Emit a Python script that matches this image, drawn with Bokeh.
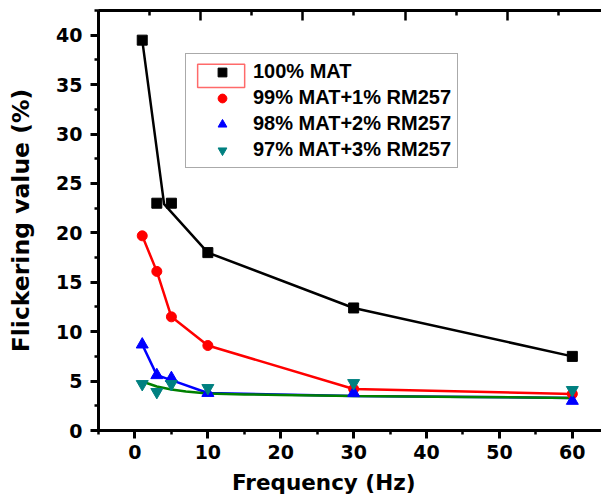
from bokeh.plotting import figure
from bokeh.models import (LinearAxis, Range1d, Legend, LegendItem,
                          SingleIntervalTicker, FixedTicker)
from bokeh.embed import file_html
from bokeh.resources import INLINE

# ---- data ----
freq = [1, 3, 5, 10, 30, 60]
mat100 = [39.5, 23.0, 23.0, 18.0, 12.4, 7.5]
mat99 = [19.7, 16.1, 11.5, 8.6, 4.2, 3.7]
mat98 = [8.7, 5.6, 5.3, 3.8, 3.8, 3.0]
mat97 = [4.7, 3.9, 4.7, 4.3, 4.8, 4.1]

line100_x = [1, 4, 10, 30, 60]
line100_y = [39.5, 22.9, 18.0, 12.4, 7.5]
line99_x = [1, 3, 5, 10, 30, 60]
line99_y = [19.7, 16.1, 11.5, 8.6, 4.2, 3.7]
line98_x = [1, 3, 5, 10, 30, 60]
line98_y = [8.7, 5.6, 5.1, 3.8, 3.5, 3.3]
fit97_x = [1, 2, 3, 5, 7, 10, 15, 20, 30, 45, 60]
fit97_y = [4.95, 4.7, 4.45, 4.15, 3.95, 3.75, 3.65, 3.6, 3.5, 3.4, 3.3]

labels = ["100% MAT", "99% MAT+1% RM257", "98% MAT+2% RM257", "97% MAT+3% RM257"]
x_title = "Frequency (Hz)"
y_title = "Flickering value (%)"

# top axis has its own tick spacing in the reference
top_major = [0, 1, 2, 3]
top_minor = [-0.5, 0.5, 1.5, 2.5, 3.5]

# red selection frame seen around the first legend symbol
sel_left, sel_right, sel_bottom, sel_top = 8.6, 15.05, 34.7, 37.05

TICK_FONT = "DejaVu Sans"

p = figure(width=601, height=504, x_range=Range1d(-5, 64), y_range=Range1d(0, 42.5),
           output_backend="svg", toolbar_location=None,
           min_border_left=98, min_border_top=10, min_border_bottom=74, min_border_right=0)
p.outline_line_color = None
p.xgrid.visible = False
p.ygrid.visible = False
p.background_fill_color = "white"
p.border_fill_color = "white"

# lines
p.line(line100_x, line100_y, line_color="black", line_width=2.5)
p.line(line99_x, line99_y, line_color="#ff0000", line_width=2.5)
p.line(line98_x, line98_y, line_color="#0000ff", line_width=2.5)
p.line(fit97_x, fit97_y, line_color="#008000", line_width=2.5)

# markers
r1 = p.scatter(freq, mat100, marker="square", size=10, fill_color="black", line_color="black")
r2 = p.scatter(freq, mat99, marker="circle", size=10, fill_color="#ff0000", line_color="#ff0000")
r3 = p.scatter(freq, mat98, marker="triangle", size=12, fill_color="#0000ff", line_color="#0000ff")
r4 = p.scatter(freq, mat97, marker="inverted_triangle", size=12, fill_color="#008080", line_color="#008080")

# axes styling
for ax in (p.xaxis[0], p.yaxis[0]):
    ax.axis_line_width = 3
    ax.major_tick_line_width = 3
    ax.minor_tick_line_width = 2.5
    ax.major_tick_in = 0
    ax.major_tick_out = 8
    ax.minor_tick_in = 0
    ax.minor_tick_out = 4
    ax.major_label_text_font = TICK_FONT
    ax.major_label_text_font_style = "bold"
    ax.major_label_text_font_size = "19px"
    ax.major_label_text_color = "black"
    ax.axis_label_text_font = TICK_FONT
    ax.axis_label_text_font_style = "bold"
    ax.axis_label_text_color = "black"

p.xaxis[0].ticker = SingleIntervalTicker(interval=10, num_minor_ticks=2)
p.yaxis[0].ticker = SingleIntervalTicker(interval=5, num_minor_ticks=2)
# trailing no-break spaces shift the centred title left, as in the reference
p.xaxis[0].axis_label = x_title + "\u00a0" * 7
p.xaxis[0].axis_label_text_font_size = "21.5px"
p.xaxis[0].major_label_standoff = 6
p.xaxis[0].axis_label_standoff = 8
p.yaxis[0].axis_label = y_title
p.yaxis[0].axis_label_text_font_size = "23.5px"
p.yaxis[0].major_label_standoff = 8
p.yaxis[0].axis_label_standoff = 18

# top axis: tick marks only, no labels
p.extra_x_ranges = {"top": Range1d(-0.997, 3.92)}
top1 = LinearAxis(x_range_name="top", ticker=FixedTicker(ticks=[], minor_ticks=top_major),
                  major_tick_in=0, major_tick_out=0, minor_tick_in=10, minor_tick_out=0,
                  axis_line_width=3, minor_tick_line_width=2.5, major_label_standoff=0)
top2 = LinearAxis(x_range_name="top", ticker=FixedTicker(ticks=[], minor_ticks=top_minor),
                  major_tick_in=0, major_tick_out=0, minor_tick_in=5, minor_tick_out=0,
                  axis_line_width=3, minor_tick_line_width=2.5, major_label_standoff=0)
p.add_layout(top1, "above")
p.add_layout(top2, "above")

# selection frame (drawn beneath a transparent legend)
p.quad(left=[sel_left], right=[sel_right], bottom=[sel_bottom], top=[sel_top],
       fill_alpha=0, line_color="#ff6a6a", line_width=1.5)

legend = Legend(items=[LegendItem(label=labels[0], renderers=[r1]),
                       LegendItem(label=labels[1], renderers=[r2]),
                       LegendItem(label=labels[2], renderers=[r3]),
                       LegendItem(label=labels[3], renderers=[r4])],
                location=(87, 262), padding=6, spacing=3, margin=0,
                glyph_width=60, glyph_height=22, label_height=22, label_standoff=1,
                label_text_font="Liberation Sans", label_text_font_style="bold",
                label_text_font_size="20px", label_text_color="black",
                border_line_color="#555555", border_line_width=1.5,
                background_fill_alpha=0.0)
p.add_layout(legend)

open("out.html", "w").write(file_html(p, INLINE))
